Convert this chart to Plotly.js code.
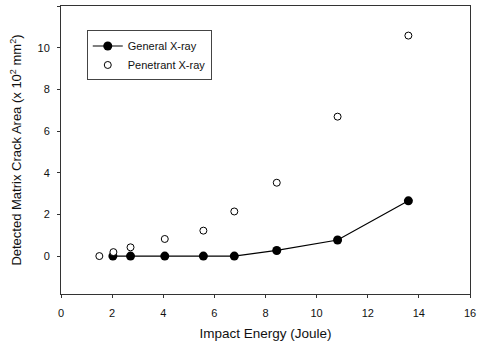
<!DOCTYPE html>
<html><head><meta charset="utf-8">
<script src="https://cdn.plot.ly/plotly-3.0.1.min.js"></script>
<style>html,body{margin:0;padding:0;background:#fff;}#chart{width:479px;height:347px;}</style>
</head><body><div id="chart"></div>
<script>
const generalX = [2.03, 2.72, 4.06, 5.57, 6.78, 8.44, 10.82, 13.59];
const generalY = [0, 0, 0, 0, 0, 0.27, 0.77, 2.65];
const penetrantX = [1.5, 2.05, 2.72, 4.06, 5.57, 6.78, 8.44, 10.82, 13.59];
const penetrantY = [0, 0.19, 0.42, 0.82, 1.22, 2.14, 3.52, 6.69, 10.58];
const xTicks = [0, 2, 4, 6, 8, 10, 12, 14, 16];
const yTicks = [0, 2, 4, 6, 8, 10, 12];

const font = {family: 'Liberation Sans, Arial, sans-serif', color: '#111'};
const traces = [
  {x: generalX, y: generalY, mode: 'lines+markers', name: 'General X-ray',
   line: {color: '#000', width: 1.2}, marker: {color: '#000', size: 9, symbol: 'circle'}},
  {x: penetrantX, y: penetrantY, mode: 'markers', name: 'Penetrant X-ray',
   marker: {color: '#fff', size: 7, symbol: 'circle', line: {color: '#000', width: 1}}}
];
const layout = {
  width: 479, height: 347,
  margin: {l: 61, r: 9, t: 6, b: 53},
  paper_bgcolor: '#fff', plot_bgcolor: '#fff',
  font: Object.assign({size: 11}, font),
  showlegend: true,
  legend: {x: 0.063, y: 0.915, xanchor: 'left', yanchor: 'top',
    bordercolor: '#444', borderwidth: 1, bgcolor: '#fff',
    font: Object.assign({size: 11}, font), tracegroupgap: 0, itemwidth: 30},
  xaxis: {range: [0, 16], tickvals: xTicks, ticktext: xTicks.map(String),
    showgrid: false, zeroline: false, showline: true, mirror: true,
    linecolor: '#333', linewidth: 1, ticks: 'outside', ticklen: 3, tickcolor: '#333',
    ticklabelstandoff: 6,
    tickfont: Object.assign({size: 11}, font),
    title: {text: 'Impact Energy (Joule)', font: Object.assign({size: 13.5}, font), standoff: 10}},
  yaxis: {range: [-1.82, 12], tickvals: yTicks, ticktext: yTicks.map(String),
    showgrid: false, zeroline: false, showline: true, mirror: true,
    linecolor: '#333', linewidth: 1, ticks: 'outside', ticklen: 3, tickcolor: '#333',
    ticklabelstandoff: 5,
    tickfont: Object.assign({size: 11}, font),
    title: {text: 'Detected Matrix Crack Area (x 10<sup>2</sup> mm<sup>2</sup>)', font: Object.assign({size: 13}, font), standoff: 12}}
};
Plotly.newPlot('chart', traces, layout, {staticPlot: true, displayModeBar: false});
</script></body></html>
